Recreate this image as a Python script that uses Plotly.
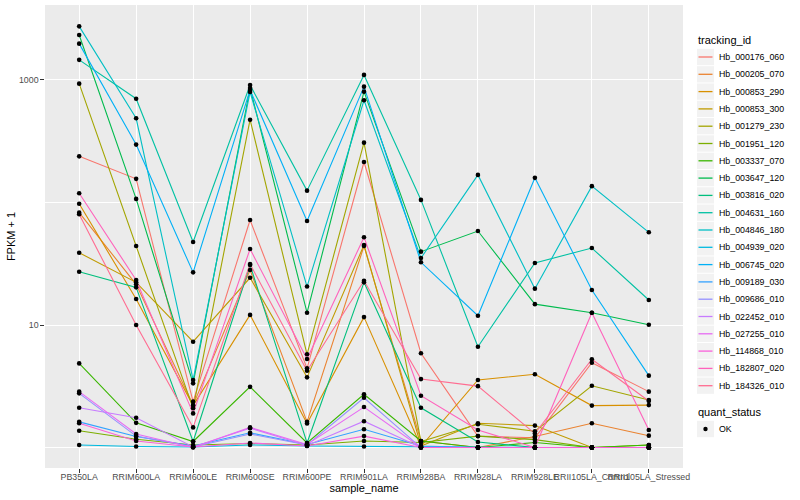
import plotly.graph_objects as go

samples = ["PB350LA", "RRIM600LA", "RRIM600LE", "RRIM600SE", "RRIM600PE", "RRIM901LA",
           "RRIM928BA", "RRIM928LA", "RRIM928LE", "RRII105LA_Control", "RRII105LA_Stressed"]

tracking_ids = ["Hb_000176_060", "Hb_000205_070", "Hb_000853_290", "Hb_000853_300", "Hb_001279_230",
                "Hb_001951_120", "Hb_003337_070", "Hb_003647_120", "Hb_003816_020", "Hb_004631_160",
                "Hb_004846_180", "Hb_004939_020", "Hb_006745_020", "Hb_009189_030", "Hb_009686_010",
                "Hb_022452_010", "Hb_027255_010", "Hb_114868_010", "Hb_182807_020", "Hb_184326_010"]

colors = ["#F8766D", "#EA8331", "#D89000", "#C09B00", "#A3A500", "#7CAE00", "#39B600", "#00BB4E",
          "#00BF7D", "#00C1A3", "#00BFC4", "#00BAE0", "#00B0F6", "#35A2FF", "#9590FF", "#C77CFF",
          "#E76BF3", "#FA62DB", "#FF62BC", "#FF6C91"]

quant_status = ["OK"]

# FPKM + 1 values per sample (same order as samples)
hb_000176_060 = [238, 156, 2.37, 72, 4.43, 214, 5.88, 1.24, 1.20, 4.92, 2.86]
hb_000205_070 = [82.6, 21.5, 2.22, 28.1, 1.62, 44.1, 1.13, 1.0, 1.23, 1.58, 1.25]
hb_000853_290 = [97.7, 16.3, 2.20, 12.1, 1.57, 11.6, 1.02, 3.56, 3.96, 2.20, 2.22]
hb_000853_300 = [38.9, 22.3, 7.31, 24.3, 3.74, 45, 1.03, 1.58, 1.51, 1.0, 1.0]
hb_001279_230 = [933, 44.1, 2.09, 474, 5.77, 308, 1.12, 1.55, 1.36, 3.19, 2.44]
hb_001951_120 = [1.37, 1.17, 1.05, 1.08, 1.05, 1.13, 1.10, 1.24, 1.16, 1.0, 1.05]
hb_003337_070 = [4.86, 1.59, 1.12, 3.13, 1.09, 2.72, 1.13, 1.0, 1.10, 1.0, 1.05]
hb_003647_120 = [2330, 107, 3.34, 860, 12.6, 803, 39.7, 58.5, 14.8, 12.6, 10.05]
hb_003816_020 = [27.2, 20.3, 1.12, 30.9, 1.09, 22.3, 2.11, 1.11, 1.0, 1.0, 1.0]
hb_004631_160 = [1460, 703, 47.6, 910, 125, 1100, 105, 6.65, 32.1, 42.5, 16.0]
hb_004846_180 = [2740, 487, 3.56, 798, 20.6, 683, 35.2, 168, 19.8, 136, 57.1]
hb_004939_020 = [1.05, 1.02, 1.01, 1.05, 1.03, 1.02, 1.01, 1.0, 1.0, 1.0, 1.0]
hb_006745_020 = [1980, 297, 26.9, 829, 70.6, 882, 32.5, 11.9, 159, 19.3, 3.86]
hb_009189_030 = [1.62, 1.23, 1.03, 1.32, 1.06, 1.41, 1.03, 1.0, 1.0, 1.0, 1.0]
hb_009686_010 = [2.77, 1.24, 1.01, 1.29, 1.05, 2.55, 1.0, 1.0, 1.0, 1.0, 1.0]
hb_022452_010 = [2.11, 1.75, 1.01, 1.44, 1.04, 1.64, 1.0, 1.0, 1.0, 1.0, 1.0]
hb_027255_010 = [2.86, 1.29, 1.0, 1.46, 1.06, 2.14, 1.0, 1.0, 1.0, 1.0, 1.0]
hb_114868_010 = [1.58, 1.13, 1.01, 1.09, 1.03, 1.24, 1.0, 1.0, 1.0, 1.0, 1.0]
hb_182807_020 = [119, 23.3, 1.90, 41.7, 5.28, 52, 2.65, 1.39, 1.0, 12.6, 1.39]
hb_184326_010 = [80.1, 10.0, 1.46, 31.5, 4.24, 23.0, 3.62, 3.17, 1.30, 5.26, 2.40]

series = [hb_000176_060, hb_000205_070, hb_000853_290, hb_000853_300, hb_001279_230,
          hb_001951_120, hb_003337_070, hb_003647_120, hb_003816_020, hb_004631_160,
          hb_004846_180, hb_004939_020, hb_006745_020, hb_009189_030, hb_009686_010,
          hb_022452_010, hb_027255_010, hb_114868_010, hb_182807_020, hb_184326_010]

y_tickvals = [10, 1000]
y_minorvals = [1, 100]

FONT = "Liberation Sans, Arial, sans-serif"
W, H = 800, 500
ML, MR, MT, MB = 45, 117, 5, 32
PW, PH = W - ML - MR, H - MT - MB


def px2x(px):
    return (px - ML) / PW


def px2y(py):
    return (H - MB - py) / PH


fig = go.Figure()
for name, col, vals in zip(tracking_ids, colors, series):
    fig.add_trace(go.Scatter(x=samples, y=vals, mode="lines", name=name,
                             line=dict(color=col, width=1.1), showlegend=False))

all_x = [s for _ in series for s in samples]
all_y = [v for vals in series for v in vals]
fig.add_trace(go.Scatter(x=all_x, y=all_y, mode="markers", name=quant_status[0],
                         marker=dict(color="black", size=4.6), showlegend=False))

# ---- legend drawn in ggplot2 guide style ----
shapes = []
annotations = []
KEY_L, KEY_R = 697.0, 714.0
TEXT_X = 717.0
STEP = 17.3
first_y = 57.0

annotations.append(dict(x=px2x(696), y=px2y(40.5), xref="paper", yref="paper",
                        text="tracking_id", showarrow=False, xanchor="left", yanchor="middle",
                        font=dict(size=11, color="black", family=FONT)))
for i, (name, col) in enumerate(zip(tracking_ids, colors)):
    cy = first_y + i * STEP
    shapes.append(dict(type="rect", xref="paper", yref="paper",
                       x0=px2x(KEY_L), x1=px2x(KEY_R),
                       y0=px2y(cy - STEP / 2 + 0.5), y1=px2y(cy + STEP / 2 - 0.5),
                       fillcolor="#F2F2F2", line=dict(width=0), layer="above"))
    shapes.append(dict(type="line", xref="paper", yref="paper",
                       x0=px2x(KEY_L + 1.5), x1=px2x(KEY_R - 1.5), y0=px2y(cy), y1=px2y(cy),
                       line=dict(color=col, width=1.3), layer="above"))
    annotations.append(dict(x=px2x(TEXT_X), y=px2y(cy), xref="paper", yref="paper",
                            text=name, showarrow=False, xanchor="left", yanchor="middle",
                            font=dict(size=8.8, color="black", family=FONT)))

annotations.append(dict(x=px2x(696), y=px2y(412.3), xref="paper", yref="paper",
                        text="quant_status", showarrow=False, xanchor="left", yanchor="middle",
                        font=dict(size=11, color="black", family=FONT)))
ok_y = 429.0
shapes.append(dict(type="rect", xref="paper", yref="paper",
                   x0=px2x(KEY_L), x1=px2x(KEY_R),
                   y0=px2y(ok_y - STEP / 2 + 0.5), y1=px2y(ok_y + STEP / 2 - 0.5),
                   fillcolor="#F2F2F2", line=dict(width=0), layer="above"))
shapes.append(dict(type="circle", xref="paper", yref="paper",
                   x0=px2x(703.3), x1=px2x(707.7), y0=px2y(ok_y - 2.2), y1=px2y(ok_y + 2.2),
                   fillcolor="black", line=dict(width=0), layer="above"))
annotations.append(dict(x=px2x(TEXT_X), y=px2y(ok_y), xref="paper", yref="paper",
                        text=quant_status[0], showarrow=False, xanchor="left", yanchor="middle",
                        font=dict(size=8.8, color="black", family=FONT)))

fig.update_layout(
    width=W, height=H,
    margin=dict(l=ML, r=MR, t=MT, b=MB, autoexpand=False),
    paper_bgcolor="white", plot_bgcolor="#EBEBEB",
    font=dict(family=FONT, color="black"),
    showlegend=False,
    shapes=shapes, annotations=annotations,
    xaxis=dict(type="category", categoryorder="array", categoryarray=samples,
               range=[-0.6, 10.6], showgrid=True, gridcolor="white", gridwidth=1.1,
               ticks="outside", ticklen=3.7, tickwidth=1, tickcolor="#333333",
               tickangle=0, tickfont=dict(size=8.8, color="#4D4D4D"), ticklabelstandoff=-3,
               showline=False, zeroline=False, automargin=False,
               title=dict(text="sample_name", font=dict(size=11), standoff=2)),
    yaxis=dict(type="log", range=[-0.167, 3.612], tickmode="array", tickvals=y_tickvals,
               ticktext=[str(v) for v in y_tickvals],
               showgrid=True, gridcolor="white", gridwidth=1.1,
               minor=dict(tickmode="array", tickvals=y_minorvals, showgrid=True,
                          gridcolor="white", gridwidth=0.55, ticks=""),
               ticks="outside", ticklen=3.7, tickwidth=1, tickcolor="#333333",
               tickfont=dict(size=8.8, color="#4D4D4D"),
               showline=False, zeroline=False, automargin=False,
               title=dict(text="FPKM + 1", font=dict(size=11), standoff=1)),
)

fig.write_html("out.html", config={"displayModeBar": False},
               post_script="document.body.style.margin='0px';")
